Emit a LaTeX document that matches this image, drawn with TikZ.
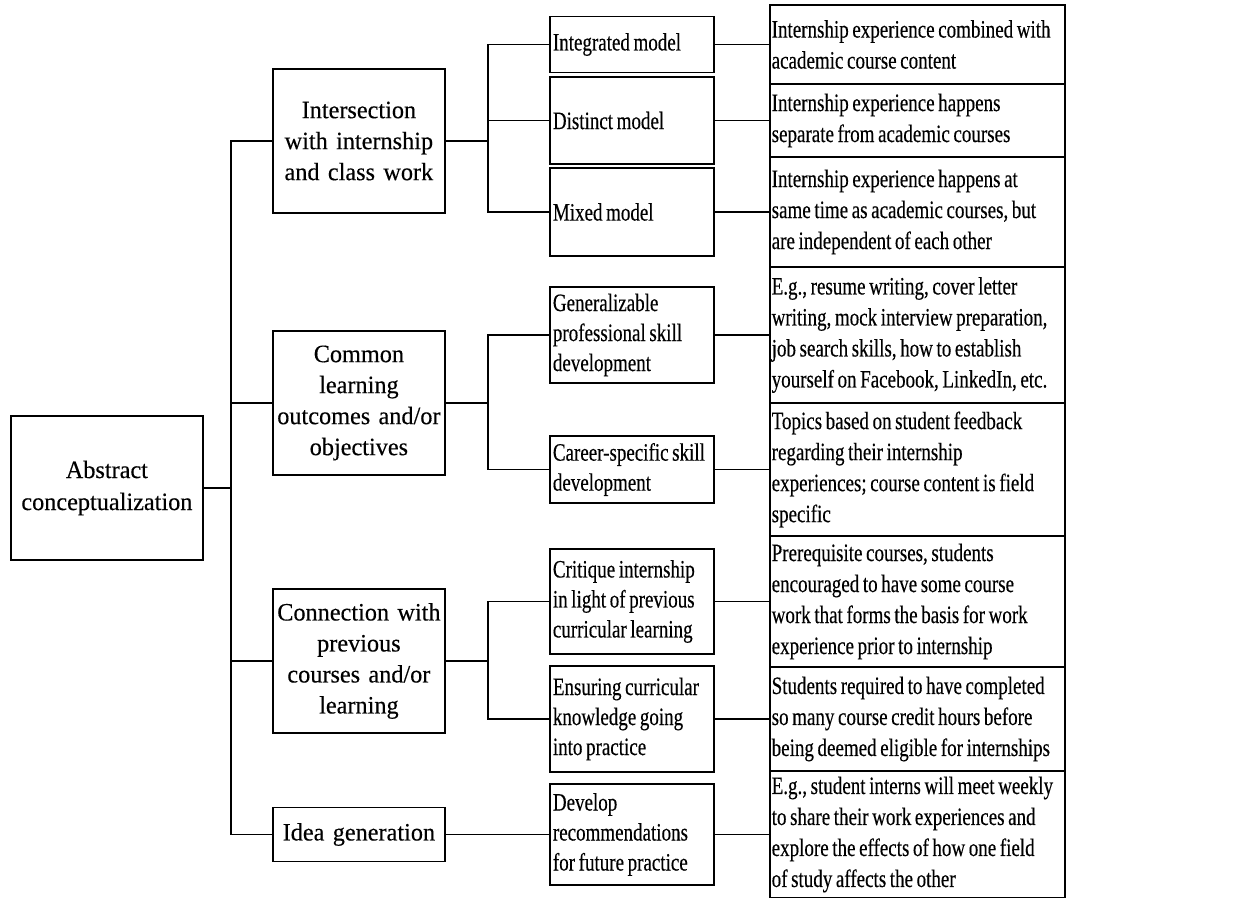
\documentclass[tikz,border=0pt]{standalone}
\usepackage{fontspec}
\setmainfont{Liberation Serif}
\newfontfamily\widefont{Liberation Serif}[FakeStretch=0.97, FakeBold=0.3]
\newfontfamily\narrowfont{Liberation Serif}[FakeStretch=0.76, WordSpace=0.76, FakeBold=0.3]
\newcommand\widesize[1]{\fontsize{25}{#1}\selectfont\spaceskip=6pt plus 1pt\relax}
\usepackage{tikz}
\usetikzlibrary{positioning}

\begin{document}
\begin{tikzpicture}[
    x = 1pt, y = -1pt,
    line width = 1.8pt,
    every node/.style = {draw, rectangle, inner ysep=2pt, line width=1.8pt},
    root/.style = {minimum width=192pt, minimum height=144pt, align=center,
                   font=\widefont\widesize{32}},
    topic/.style = {text width=166pt, inner xsep=3pt, align=center,
                    font=\widefont\widesize{31}},
    model/.style = {text width=158pt, inner xsep=3pt, align=flush left,
                    font=\narrowfont\fontsize{25}{30}\selectfont},
    detail/.style = {text width=291pt, inner xsep=2pt, align=flush left,
                     font=\narrowfont\fontsize{25}{31}\selectfont}
  ]
    \useasboundingbox (0,0) rectangle (1252,898);

    \node[root, anchor=west] (abs) at (10,488) {Abstract\\conceptualization};  % root

    \node[topic, minimum height=144pt, anchor=west] (inter) at (272,141) {Intersection\\with internship\\and class work};
    \node[topic, minimum height=144pt, anchor=west] (common) at (272,403) {Common\\learning\\outcomes and/or\\objectives};
    \node[topic, minimum height=144pt, anchor=west] (conn) at (272,661) {Connection with\\previous\\courses and/or\\learning};
    \node[topic, minimum height=54pt, anchor=west] (idea) at (272,834.5) {Idea generation};

    \node[model, minimum height=56pt, anchor=west] (integ) at (549,44.5) {Integrated model};
    \node[model, minimum height=87pt, anchor=west] (distinct) at (549,120.5) {Distinct model};
    \node[model, minimum height=88pt, anchor=west] (mixed) at (549,212) {Mixed model};
    \node[model, minimum height=96pt, anchor=west] (general) at (549,335) {Generalizable\\professional skill\\development};
    \node[model, minimum height=67pt, anchor=west] (career) at (549,469.5) {Career-specific skill\\development};
    \node[model, minimum height=105pt, anchor=west] (critique) at (549,601.5) {Critique internship\\in light of previous\\curricular learning};
    \node[model, minimum height=106pt, anchor=west] (ensure) at (549,719) {Ensuring curricular\\knowledge going\\into practice};
    \node[model, minimum height=101pt, anchor=west] (develop) at (549,834.5) {Develop\\recommendations\\for future practice};

    \node[detail, minimum height=79pt, right=54pt of integ] (ex1) {Internship experience combined with\\academic course content};
    \node[detail, minimum height=73pt, right=54pt of distinct] (ex2) {Internship experience happens\\separate from academic courses};
    \node[detail, minimum height=110pt, right=54pt of mixed] (ex3) {Internship experience happens at\\same time as academic courses, but\\are independent of each other};
    \node[detail, minimum height=136pt, right=54pt of general] (ex4) {E.g., resume writing, cover letter\\writing, mock interview preparation,\\job search skills, how to establish\\yourself on Facebook, LinkedIn, etc.};
    \node[detail, minimum height=133pt, right=54pt of career] (ex5) {Topics based on student feedback\\regarding their internship\\experiences; course content is field\\specific};
    \node[detail, minimum height=131pt, right=54pt of critique] (ex6) {Prerequisite courses, students\\encouraged to have some course\\work that forms the basis for work\\experience prior to internship};
    \node[detail, minimum height=104pt, right=54pt of ensure] (ex7) {Students required to have completed\\so many course credit hours before\\being deemed eligible for internships};
    \node[detail, minimum height=126pt, right=54pt of develop] (ex8) {E.g., student interns will meet weekly\\to share their work experiences and\\explore the effects of how one field\\of study affects the other};

    % trunk
    \draw (abs.east) -- ++(27,0) coordinate (trunk);
    \draw (inter.west) -| (trunk) |- (idea.west);
    \draw (common.west) -- (common.west -| trunk);
    \draw (conn.west) -- (conn.west -| trunk);

    % buses
    \draw (inter.east) -- ++(42,0) coordinate (busa);
    \draw (integ.west) -| (busa) |- (mixed.west);
    \draw (distinct.west) -- (distinct.west -| busa);
    \draw (common.east) -- ++(42,0) coordinate (busb);
    \draw (general.west) -| (busb) |- (career.west);
    \draw (conn.east) -- ++(42,0) coordinate (busc);
    \draw (critique.west) -| (busc) |- (ensure.west);
    \draw (idea.east) -- (develop.west);

    \foreach \a/\b in {integ/ex1, distinct/ex2, mixed/ex3, general/ex4,
                       career/ex5, critique/ex6, ensure/ex7, develop/ex8}
        \draw (\a.east) -- (\b.west);
\end{tikzpicture}
\end{document}
